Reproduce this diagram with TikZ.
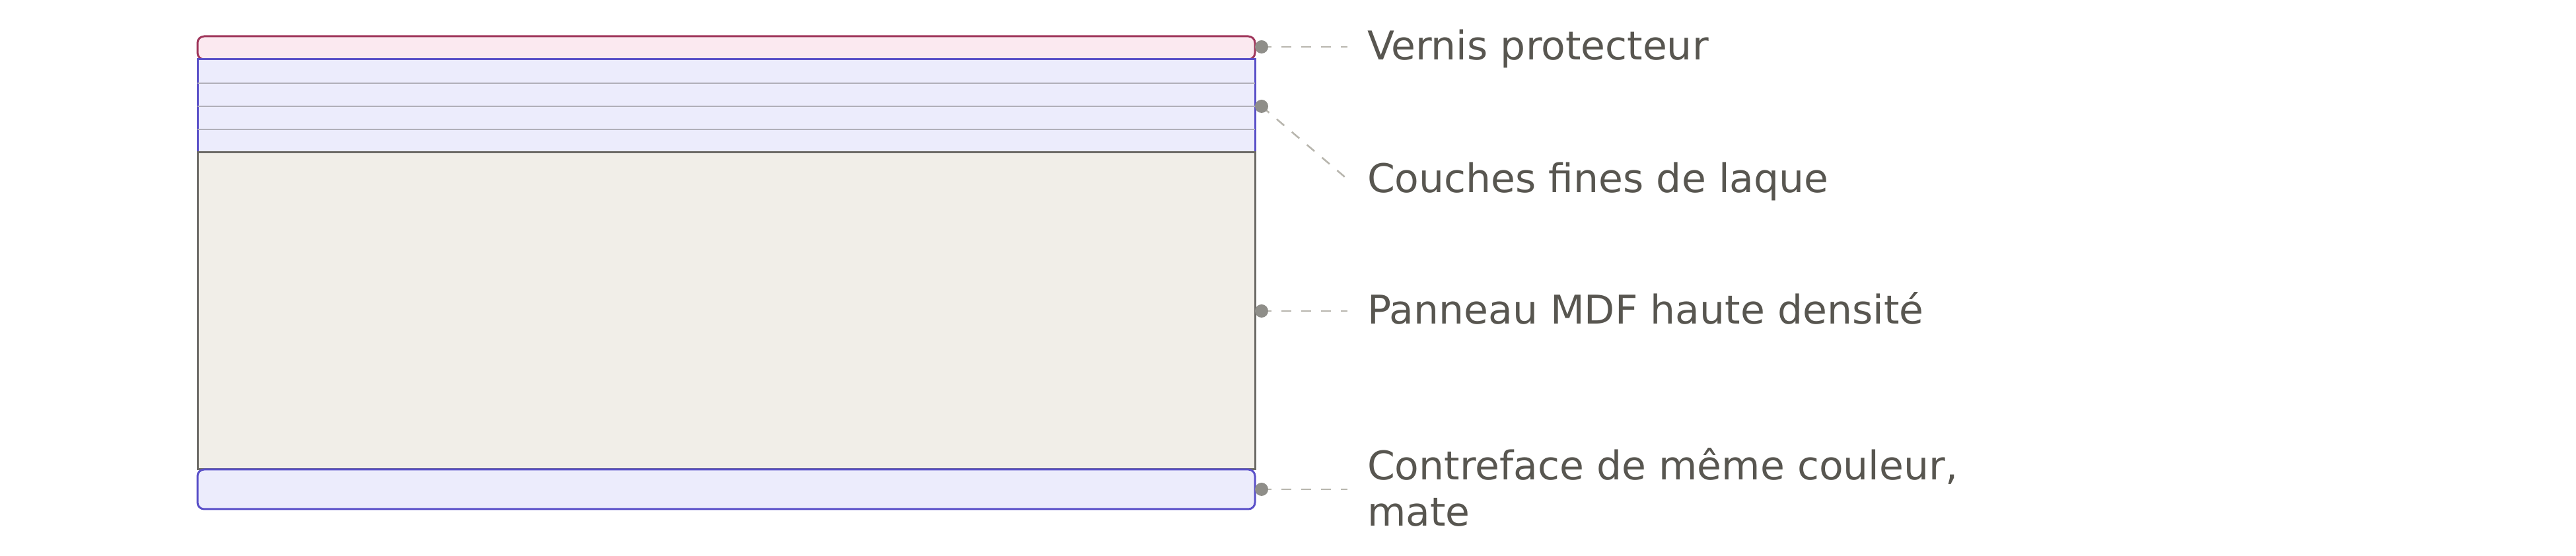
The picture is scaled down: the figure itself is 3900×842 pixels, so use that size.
\documentclass[tikz,border=0pt]{standalone}
\usepackage{fontspec}
\setmainfont{DejaVu Sans}
\definecolor{varnishfill}{RGB}{251,233,240}
\definecolor{varnishline}{RGB}{160,55,92}
\definecolor{lacfill}{RGB}{236,236,252}
\definecolor{lacline}{RGB}{90,80,200}
\definecolor{mdffill}{RGB}{241,238,232}
\definecolor{mdfline}{RGB}{108,106,102}
\definecolor{subline}{RGB}{176,175,185}
\definecolor{dotcol}{RGB}{143,142,137}
\definecolor{dashcol}{RGB}{184,182,174}
\definecolor{textcol}{RGB}{88,86,80}
\tikzset{
  layer/.style={rectangle, anchor=north west, inner sep=0pt, outer sep=0pt, minimum width=400.25pt, line width=0.75pt},
  sublayer/.style={draw=subline, line width=0.65pt},
  leader/.style={draw=dashcol, line width=0.65pt, dash pattern=on 3.75pt off 3.75pt},
  pin/.style={circle, fill=dotcol, inner sep=0pt, minimum size=5pt},
  lbl/.style={inner sep=0pt, outer sep=0pt, text=textcol, font=\fontsize{15pt}{17.5pt}\selectfont, align=left}
}
\begin{document}
\begin{tikzpicture}[x=0.25pt, y=-0.25pt]
\useasboundingbox (0,0) rectangle (3900,842);
% layers
\node[layer, draw=varnishline, fill=varnishfill, rounded corners=2.5pt, minimum height=8.75pt] (varnish) at (299,55) {};
\node[layer, draw=lacline, fill=lacfill, minimum height=35.25pt] (lacquer) at (299,90) {};
\draw[sublayer] (lacquer.west |- 0,126) -- (lacquer.east |- 0,126);
\draw[sublayer] (lacquer.west |- 0,161) -- (lacquer.east |- 0,161);
\draw[sublayer] (lacquer.west |- 0,196) -- (lacquer.east |- 0,196);
\node[layer, draw=mdfline, fill=mdffill, minimum height=120pt] (mdf) at (299,231) {};
\node[layer, draw=lacline, fill=lacfill, rounded corners=2.5pt, minimum height=15pt] (back) at (299,711) {};
% anchor points
\coordinate (p1) at (1910,71);
\coordinate (p2) at (1910,161);
\coordinate (p3) at (1910,471);
\coordinate (p4) at (1910,741);
\coordinate (e1) at (2040,71);
\coordinate (e2) at (2036,268);
\coordinate (e3) at (2040,471);
\coordinate (e4) at (2040,741);
% leaders
\draw[leader] (p1) -- (e1);
\draw[leader] (p2) -- (e2);
\draw[leader] (p3) -- (e3);
\draw[leader] (p4) -- (e4);
% dots
\node[pin] (d1) at (p1) {};
\node[pin] (d2) at (p2) {};
\node[pin] (d3) at (p3) {};
\node[pin] (d4) at (p4) {};
% labels
\node[lbl, anchor=base west] (t1) at (2070,91) {Vernis protecteur};
\node[lbl, anchor=base west] (t2) at (2070,292) {Couches fines de laque};
\node[lbl, anchor=base west] (t3) at (2070,491) {Panneau MDF haute densité};
\node[lbl, anchor=base west] (t4) at (2070,797) {Contreface de même couleur,\\mate};
\end{tikzpicture}
\end{document}
